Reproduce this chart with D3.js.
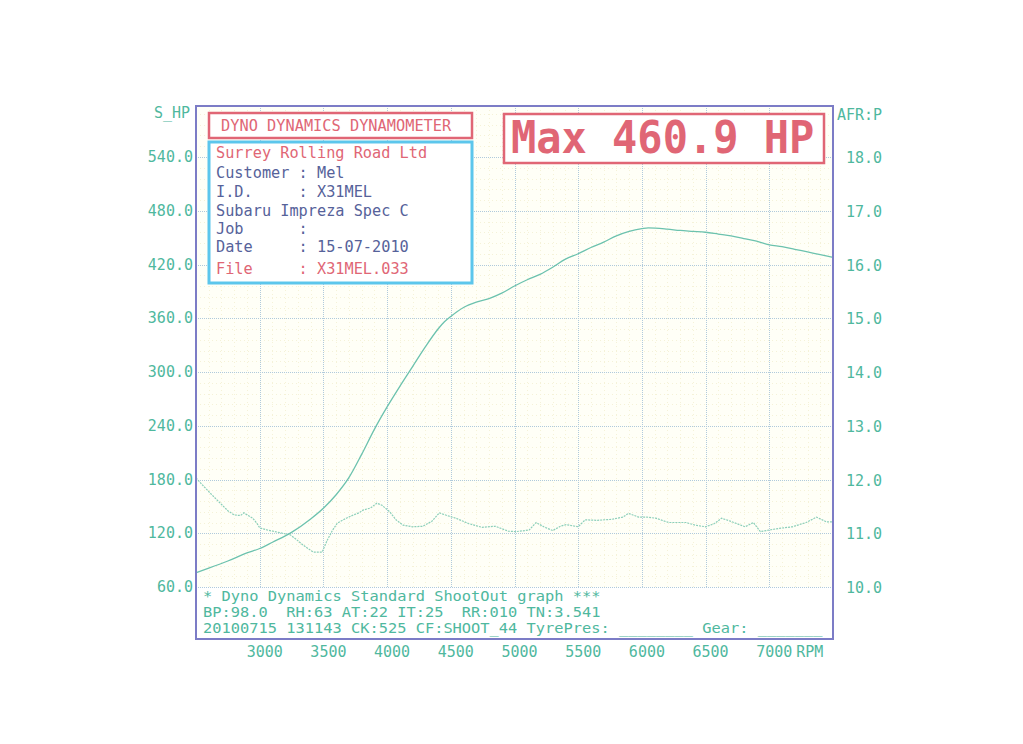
<!DOCTYPE html>
<html>
<head>
<meta charset="utf-8">
<script src="https://cdn.jsdelivr.net/npm/d3@7"></script>
<style>
  html, body { margin: 0; padding: 0; background: #ffffff; }
  svg text { white-space: pre; }
</style>
</head>
<body>
<div id="chart"></div>
<script>
// ---------------- DATA ----------------
const hpRpm = [2500, 2600, 2750, 2900, 3000, 3100, 3250, 3400, 3500, 3600, 3700, 3800, 3900, 4000, 4100, 4200, 4300, 4400, 4450, 4500, 4600, 4700, 4800, 4900, 5000, 5100, 5200, 5300, 5400, 5500, 5600, 5700, 5800, 5900, 6000, 6050, 6200, 6300, 6400, 6500, 6600, 6700, 6800, 6900, 7000, 7100, 7200, 7300, 7400, 7500];
const hpValues = [76, 81, 89, 98, 103, 110, 121, 136, 148, 163, 182, 208, 236, 261, 284, 306, 328, 348, 356, 362, 372, 378, 382, 388, 396, 403, 409, 417, 426, 432, 439, 445, 452, 457, 460, 460.9, 459.5, 458, 457, 456, 454, 452, 449, 446, 442, 440, 437, 434, 431, 428];

const afrRpm = [2500, 2550, 2610, 2690, 2750, 2800, 2850, 2875, 2910, 2945, 2980, 3000, 3060, 3140, 3240, 3290, 3340, 3420, 3490, 3530, 3570, 3610, 3680, 3735, 3780, 3810, 3870, 3920, 3960, 4020, 4070, 4125, 4200, 4280, 4350, 4410, 4470, 4540, 4640, 4745, 4850, 4950, 5010, 5115, 5170, 5230, 5300, 5360, 5405, 5500, 5555, 5650, 5765, 5850, 5895, 5975, 6040, 6110, 6210, 6345, 6420, 6500, 6570, 6625, 6700, 6810, 6875, 6930, 7000, 7075, 7180, 7290, 7370, 7450, 7500];
const afrValues = [12.03, 11.9, 11.75, 11.56, 11.42, 11.34, 11.33, 11.38, 11.33, 11.28, 11.18, 11.10, 11.06, 11.02, 10.97, 10.88, 10.78, 10.65, 10.65, 10.87, 11.05, 11.19, 11.28, 11.34, 11.38, 11.43, 11.47, 11.56, 11.52, 11.40, 11.25, 11.15, 11.12, 11.13, 11.22, 11.38, 11.33, 11.28, 11.18, 11.11, 11.13, 11.04, 11.03, 11.06, 11.20, 11.12, 11.05, 11.13, 11.16, 11.12, 11.25, 11.24, 11.26, 11.30, 11.37, 11.30, 11.30, 11.28, 11.20, 11.20, 11.15, 11.12, 11.18, 11.28, 11.22, 11.12, 11.20, 11.03, 11.06, 11.09, 11.12, 11.20, 11.30, 11.21, 11.21];

const hpTicks = [60, 120, 180, 240, 300, 360, 420, 480, 540];
const afrTicks = [10, 11, 12, 13, 14, 15, 16, 17, 18];
const rpmTicks = [3000, 3500, 4000, 4500, 5000, 5500, 6000, 6500, 7000];

const titleBoxText = "DYNO DYNAMICS DYNAMOMETER";
const maxText = "Max 460.9 HP";
const infoLines = [
  { t: "Surrey Rolling Road Ltd", red: true },
  { t: "Customer : Mel", red: false },
  { t: "I.D.     : X31MEL", red: false },
  { t: "Subaru Impreza Spec C", red: false },
  { t: "Job      :", red: false },
  { t: "Date     : 15-07-2010", red: false },
  { t: "File     : X31MEL.033", red: true }
];
const footerLines = [
  "* Dyno Dynamics Standard ShootOut graph ***",
  "BP:98.0  RH:63 AT:22 IT:25  RR:010 TN:3.541",
  "20100715 131143 CK:525 CF:SHOOT_44 TyrePres: ________ Gear: _______"
];

// ---------------- LAYOUT ----------------
const W = 1023, H = 744;
const frame = { left: 196, right: 833, top: 106, bottom: 639 };
const FONT = "'DejaVu Sans Mono', 'Liberation Mono', monospace";
const TEAL = "#4fb89e";
const RED = "#e06675";
const NAVY = "#56629a";
const CYAN = "#5cc6ec";
const FRAMEC = "#7c7cc6";
const GRID = "#b0cadc";

const svg = d3.select("#chart").append("svg")
  .attr("width", W).attr("height", H)
  .style("display", "block");

svg.append("rect").attr("width", W).attr("height", H).attr("fill", "#ffffff");

const x = d3.scaleLinear().domain([2500, 7500]).range([frame.left, frame.right]);
const yHP = d3.scaleLinear().domain([60, 540]).range([587, 157]);
const yAFR = d3.scaleLinear().domain([10, 18]).range([587, 157]);

function txt(g, px, py, s, o) {
  const sy = o.sy || 1, sx = o.sx || 1;
  return g.append("text")
    .attr("transform", `translate(${px},${py}) scale(${sx},${sy})`)
    .attr("xml:space", "preserve")
    .attr("font-family", FONT)
    .attr("font-size", o.size)
    .attr("font-weight", o.weight || "normal")
    .attr("fill", o.fill)
    .attr("text-anchor", o.anchor || "start")
    .text(s);
}

// plot background (faint yellowish)
svg.append("rect")
  .attr("x", frame.left).attr("y", frame.top)
  .attr("width", frame.right - frame.left).attr("height", yHP(60) - frame.top)
  .attr("fill", "#fffff7");

// minor grid (very faint yellow)
const minor = svg.append("g").attr("stroke", "#f5f2d8").attr("stroke-width", 1).attr("stroke-dasharray", "1,3");
d3.range(2600, 7500, 100).forEach(r => {
  minor.append("line").attr("x1", Math.round(x(r)) + 0.5).attr("x2", Math.round(x(r)) + 0.5)
    .attr("y1", frame.top).attr("y2", yHP(60));
});
d3.range(72, 600, 12).forEach(v => {
  if (yHP(v) <= frame.top) return;
  minor.append("line").attr("y1", Math.round(yHP(v)) + 0.5).attr("y2", Math.round(yHP(v)) + 0.5)
    .attr("x1", frame.left).attr("x2", frame.right);
});

// major grid
const grid = svg.append("g").attr("stroke", GRID).attr("stroke-width", 1).attr("stroke-dasharray", "1,1");
rpmTicks.forEach(r => {
  grid.append("line").attr("x1", Math.round(x(r)) + 0.5).attr("x2", Math.round(x(r)) + 0.5)
    .attr("y1", frame.top).attr("y2", yHP(60));
});
hpTicks.forEach(v => {
  grid.append("line").attr("y1", Math.round(yHP(v)) + 0.5).attr("y2", Math.round(yHP(v)) + 0.5)
    .attr("x1", frame.left).attr("x2", frame.right);
});

// curves
const hpData = hpRpm.map((r, i) => [r, hpValues[i]]);
const afrData = afrRpm.map((r, i) => [r, afrValues[i]]);

svg.append("path")
  .datum(afrData)
  .attr("fill", "none")
  .attr("stroke", "#8ccfba")
  .attr("stroke-width", 1.2)
  .attr("stroke-dasharray", "2,1")
  .attr("d", d3.line().x(d => x(d[0])).y(d => yAFR(d[1])));

svg.append("path")
  .datum(hpData)
  .attr("fill", "none")
  .attr("stroke", "#6cc2ae")
  .attr("stroke-width", 1.3)
  .attr("d", d3.line().curve(d3.curveMonotoneX).x(d => x(d[0])).y(d => yHP(d[1])));

// frame
svg.append("rect")
  .attr("x", frame.left).attr("y", frame.top)
  .attr("width", frame.right - frame.left).attr("height", frame.bottom - frame.top)
  .attr("fill", "none").attr("stroke", FRAMEC).attr("stroke-width", 2);

// axis titles
txt(svg, 190, 118, "S_HP", { size: 15, fill: TEAL, anchor: "end", sy: 1.05 });
txt(svg, 837, 120, "AFR:P", { size: 15, fill: TEAL, sy: 1.05 });

// left ticks
hpTicks.forEach(v => {
  txt(svg, 193, yHP(v) + 5, v.toFixed(1), { size: 15, fill: TEAL, anchor: "end" });
});
// right ticks
afrTicks.forEach(v => {
  txt(svg, 846, yAFR(v) + 6, v.toFixed(1), { size: 15, fill: TEAL });
});
// bottom ticks
rpmTicks.forEach(r => {
  txt(svg, x(r) + 5, 657, String(r), { size: 15, fill: TEAL, anchor: "middle", sy: 1.05 });
});
txt(svg, x(7000) + 27, 657, "RPM", { size: 15, fill: TEAL, sy: 1.05 });

// title box
svg.append("rect").attr("x", 209).attr("y", 113).attr("width", 263).attr("height", 25)
  .attr("fill", "#ffffff").attr("stroke", RED).attr("stroke-width", 2.5);
txt(svg, 221, 131, titleBoxText, { size: 15.3, fill: RED });

// info box
svg.append("rect").attr("x", 209).attr("y", 142).attr("width", 263).attr("height", 141)
  .attr("fill", "#ffffff").attr("stroke", CYAN).attr("stroke-width", 3);
const infoBase = [158, 178, 197, 216, 234, 252, 274];
infoLines.forEach((l, i) => {
  txt(svg, 216, infoBase[i], l.t, { size: 14, sx: 1.09, sy: 1.15, fill: l.red ? RED : NAVY });
});

// Max box
svg.append("rect").attr("x", 504).attr("y", 114).attr("width", 320).attr("height", 49)
  .attr("fill", "#ffffff").attr("stroke", RED).attr("stroke-width", 2.5);
txt(svg, 511, 153, maxText, { size: 42, fill: RED, weight: "bold", sy: 1.04 });

// footer text
const footBase = [601, 617, 633];
footerLines.forEach((s, i) => {
  txt(svg, 203, footBase[i], s, { size: 13.6, sx: 1.13, sy: 1.0, fill: TEAL });
});
</script>
</body>
</html>
